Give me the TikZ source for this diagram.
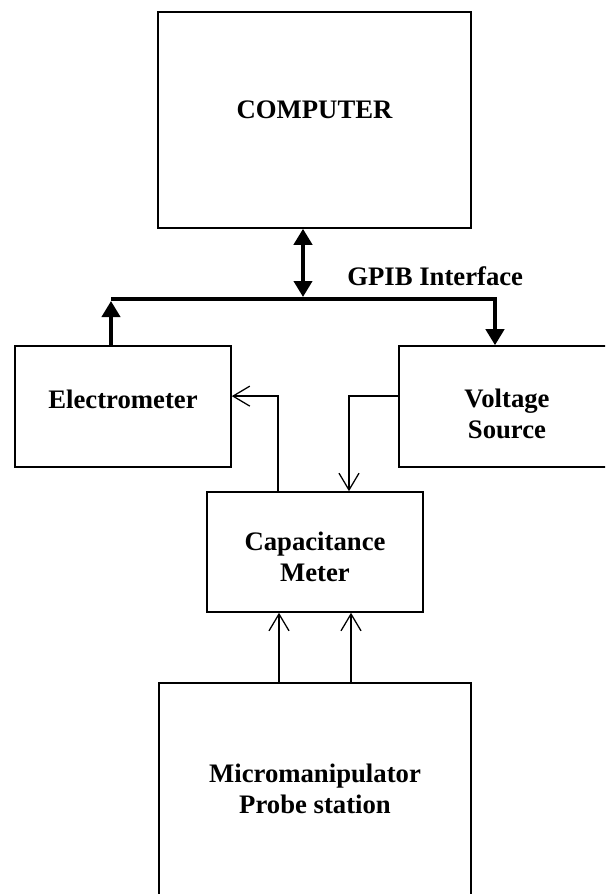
\documentclass[tikz,border=0pt]{standalone}
\usepackage{fontspec}
\setmainfont{Liberation Serif}
\usetikzlibrary{arrows.meta}
\tikzset{
  instr/.style={draw, line width=1.1pt, inner sep=0pt, align=center, font=\fontsize{19}{22}\selectfont\bfseries},
  gpib/.style={line width=2.8pt, line join=miter},
  gpibtip/.style={-{Triangle[length=0.40cm,width=0.45cm]}},
  sig/.style={line width=0.9pt, -{Straight Barb[length=0.42cm,width=0.5cm]}},
}

\begin{document}
\begin{tikzpicture}
\useasboundingbox (0,0) rectangle (15.125,-22.35);
\clip (0,0) rectangle (15.125,-22.35);
\node[instr, minimum width=7.825cm, minimum height=5.400cm, text depth=14pt] (computer) at (7.863,-3.000) {COMPUTER};
\node[instr, minimum width=5.400cm, minimum height=3.025cm, text depth=11pt] (electrometer) at (3.075,-10.163) {Electrometer};
\node[instr, minimum width=5.400cm, minimum height=3.025cm, text height=46pt] (voltage) at (12.675,-10.163) {Voltage\\Source};
\node[instr, minimum width=5.400cm, minimum height=3.000cm, text height=42pt] (capmeter) at (7.875,-13.800) {Capacitance\\Meter};
\node[instr, minimum width=7.800cm, minimum height=5.300cm] (probe) at (7.875,-19.725) {Micromanipulator\\Probe station};
\coordinate (busL) at (2.775,-7.475);
\coordinate (busM) at (7.575,-7.475);
\coordinate (busR) at (12.375,-7.475);
\node[anchor=base west, inner sep=0pt, font=\fontsize{19}{22}\selectfont\bfseries] (gpiblabel) at (8.675,-7.150) {GPIB Interface};
% GPIB bus
\draw[gpib, gpibtip] (busL) -- (busR) -- (busR |- voltage.north);
\draw[gpib, {Triangle[length=0.40cm,width=0.45cm]}-{Triangle[length=0.40cm,width=0.45cm]}, shorten >=0.05cm] (computer.south -| busM) -- (busM);
\draw[gpib, gpibtip, shorten >=0.05cm] (electrometer.north -| busL) -- (busL);
% measurement lines
\draw[sig] ([xshift=-0.925cm]capmeter.north) |- ([yshift=0.26cm]electrometer.east);
\draw[sig] ([yshift=0.26cm]voltage.west) -| ([xshift=0.850cm]capmeter.north);
\draw[sig] ([xshift=-0.900cm]probe.north) -- ([xshift=-0.900cm]capmeter.south);
\draw[sig] ([xshift=0.900cm]probe.north) -- ([xshift=0.900cm]capmeter.south);
\end{tikzpicture}
\end{document}
